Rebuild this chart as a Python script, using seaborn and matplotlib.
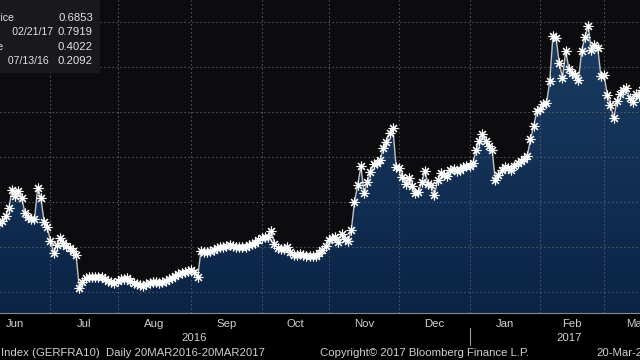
import numpy as np
import pandas as pd
import matplotlib
matplotlib.use('Agg')
import matplotlib.pyplot as plt
import seaborn as sns
from matplotlib.patches import Rectangle
from matplotlib.colors import LinearSegmentedColormap
from matplotlib.lines import Line2D
from matplotlib.transforms import blended_transform_factory

# datos (dias habiles)
fechas = pd.bdate_range('2016-06-07', '2017-03-20')
valores = [
    0.349, 0.353, 0.358, 0.369, 0.387, 0.427, 0.413, 0.425, 0.409, 0.376,
    0.367, 0.362, 0.362, 0.432, 0.409, 0.356, 0.344, 0.313, 0.287, 0.304,
    0.320, 0.309, 0.302, 0.298, 0.291, 0.282, 0.2092, 0.223, 0.231, 0.233,
    0.234, 0.233, 0.234, 0.233, 0.230, 0.224, 0.222, 0.221, 0.224, 0.228,
    0.230, 0.231, 0.224, 0.221, 0.218, 0.216, 0.213, 0.217, 0.220, 0.223,
    0.222, 0.221, 0.222, 0.225, 0.229, 0.232, 0.236, 0.240, 0.243, 0.245,
    0.247, 0.248, 0.244, 0.233, 0.291, 0.288, 0.288, 0.292, 0.294, 0.297,
    0.299, 0.301, 0.302, 0.304, 0.303, 0.301, 0.300, 0.299, 0.301, 0.304,
    0.306, 0.309, 0.316, 0.321, 0.322, 0.322, 0.336, 0.307, 0.298, 0.296,
    0.296, 0.299, 0.289, 0.282, 0.283, 0.284, 0.282, 0.280, 0.279, 0.279,
    0.280, 0.286, 0.293, 0.303, 0.316, 0.321, 0.322, 0.312, 0.330, 0.318,
    0.313, 0.338, 0.400, 0.438, 0.479, 0.419, 0.444, 0.466, 0.484, 0.487,
    0.493, 0.519, 0.533, 0.554, 0.564, 0.478, 0.476, 0.456, 0.440, 0.454,
    0.436, 0.420, 0.422, 0.444, 0.469, 0.440, 0.438, 0.416, 0.449, 0.464,
    0.460, 0.458, 0.471, 0.474, 0.470, 0.471, 0.478, 0.480, 0.480, 0.487,
    0.516, 0.536, 0.550, 0.536, 0.524, 0.516, 0.449, 0.460, 0.471, 0.477,
    0.476, 0.471, 0.480, 0.487, 0.491, 0.496, 0.502, 0.540, 0.569, 0.603,
    0.607, 0.618, 0.619, 0.668, 0.768, 0.764, 0.708, 0.676, 0.736, 0.696,
    0.687, 0.682, 0.671, 0.736, 0.766, 0.7919, 0.738, 0.750, 0.743, 0.680,
    0.682, 0.638, 0.616, 0.586, 0.624, 0.641, 0.650, 0.653, 0.632, 0.623,
    0.640, 0.636, 0.649, 0.667, 0.6853,
]
meses = ['Jun', 'Jul', 'Aug', 'Sep', 'Oct', 'Nov', 'Dec', 'Jan', 'Feb', 'Mar']
inicio_mes = ['2016-06-01', '2016-07-01', '2016-08-01', '2016-09-01', '2016-10-03',
              '2016-11-01', '2016-12-01', '2017-01-02', '2017-02-01', '2017-03-01']
anios = ['2016', '2017']
niveles = [0.2, 0.3, 0.4, 0.5, 0.6, 0.7, 0.8]
leyenda_etiquetas = ['Last Price', 'High on 02/21/17', 'Average', 'Low on 07/13/16']
leyenda_valores = ['0.6853', '0.7919', '0.4022', '0.2092']
pie = ['Index (GERFRA10)  Daily 20MAR2016-20MAR2017',
       'Copyright\u00a9 2017 Bloomberg Finance L.P.', '20-Mar-2017']

sns.set_theme(style='dark')
plt.rcParams['font.family'] = ['Liberation Sans', 'DejaVu Sans']

W, H = 640, 360
fondo = '#0c0c0f'
texto = '#d0d0d0'
fs = 8.2

df = pd.DataFrame({'pos': np.arange(len(fechas)), 'valor': valores[:len(fechas)]})
inicio = str(fechas[0].date())
pos_mes = np.array([np.busday_count(inicio, d) for d in inicio_mes]) - 1
fin = len(fechas) - 1 + 6
centros = list((pos_mes[:-1] + pos_mes[1:]) / 2) + [(pos_mes[-1] + fin) / 2]

eje_y = 313  # linea del eje en pixeles
fig = plt.figure(figsize=(W / 100, H / 100), dpi=100, facecolor='#000000')
ax = fig.add_axes([0, (H - eje_y) / H, 1, eje_y / H])
ax.set_facecolor(fondo)

ytop = 382 / 450
ybot = (382 - eje_y) / 450
xmin, xmax = 1.22, 201.22

# area con degradado
poly = ax.fill_between(df['pos'], df['valor'], ybot, color='none', lw=0)
grad = np.linspace(1, 0, 256).reshape(-1, 1)
cmap = LinearSegmentedColormap.from_list('azul', ['#0b2446', '#1b3c63'])
im = ax.imshow(grad, extent=[-5, len(fechas) + 5, ybot, 0.8], aspect='auto',
               cmap=cmap, origin='upper', zorder=1)
im.set_clip_path(poly.get_paths()[0], transform=ax.transData)

# rejilla punteada
for v in niveles:
    ax.axhline(v, color='#5b5f68', lw=0.8, ls=(0, (1.2, 2.4)), zorder=2)
for p in pos_mes:
    ax.axvline(p, color='#5b5f68', lw=0.8, ls=(0, (1.2, 2.4)), zorder=2)

sns.lineplot(data=df, x='pos', y='valor', ax=ax, color='#c4c4c4', lw=1,
             marker=(8, 2, 0), markersize=7, markeredgecolor='white',
             markeredgewidth=0.8, estimator=None, zorder=4)

ax.set_xticks(pos_mes)
ax.set_xticklabels([])
ax.set_yticks([])
ax.set_xlabel('')
ax.set_ylabel('')
ax.set_xlim(xmin, xmax)
ax.set_ylim(ybot, ytop)
ax.tick_params(axis='x', direction='in', length=3, color='#8a8a8a', width=0.8, bottom=True)
for s in ['top', 'left', 'right']:
    ax.spines[s].set_visible(False)
ax.spines['bottom'].set_color('#8a8a8a')
ax.spines['bottom'].set_linewidth(0.8)

tr = blended_transform_factory(ax.transData, fig.transFigure)
for m, c in zip(meses, centros):
    ax.text(c, 1 - 324 / H, m, transform=tr, ha='center', va='center',
            color=texto, fontsize=fs, clip_on=False)
ax.text(62, 1 - 338 / H, anios[0], transform=tr, ha='center', va='center',
        color=texto, fontsize=fs, clip_on=False)
ax.text((pos_mes[7] + fin) / 2, 1 - 338 / H, anios[1], transform=tr, ha='center',
        va='center', color=texto, fontsize=fs, clip_on=False)
fig.add_artist(Line2D([pos_mes[7], pos_mes[7]], [1 - 328 / H, 1 - 345 / H],
                      transform=tr, color='#9a9a9a', lw=0.8))

# pie de pagina
fig.text(1 / W, 1 - 353 / H, pie[0], color=texto, fontsize=fs, va='center', ha='left')
fig.text(320 / W, 1 - 353 / H, pie[1], color=texto, fontsize=fs, va='center', ha='left')
fig.text(596 / W, 1 - 353 / H, pie[2], color=texto, fontsize=fs, va='center', ha='left')

# cuadro de leyenda (recortado por el borde izquierdo, como el original)
fig.add_artist(Rectangle((0, 1 - 73 / H), 100 / W, 73 / H, transform=fig.transFigure,
                         facecolor='#19191d', edgecolor='none', zorder=5))
x_etq = [14, 53, 4, 49]
x_corte = [0, 10, 0, 5]
for i, (e, v) in enumerate(zip(leyenda_etiquetas, leyenda_valores)):
    yy = 1 - (18 + 14.3 * i) / H
    t1 = fig.text(x_etq[i] / W, yy, e, color='#e2e2e2', fontsize=7.6, ha='right', va='center')
    t1.set_clip_path(Rectangle((x_corte[i] / W, 0), 1, 1, transform=fig.transFigure))
    t2 = fig.text(93 / W, yy, v, color='#e2e2e2', fontsize=fs, ha='right', va='center')
    t1.set_zorder(6)
    t2.set_zorder(6)

fig.savefig('out.png', dpi=100, facecolor=fig.get_facecolor())
